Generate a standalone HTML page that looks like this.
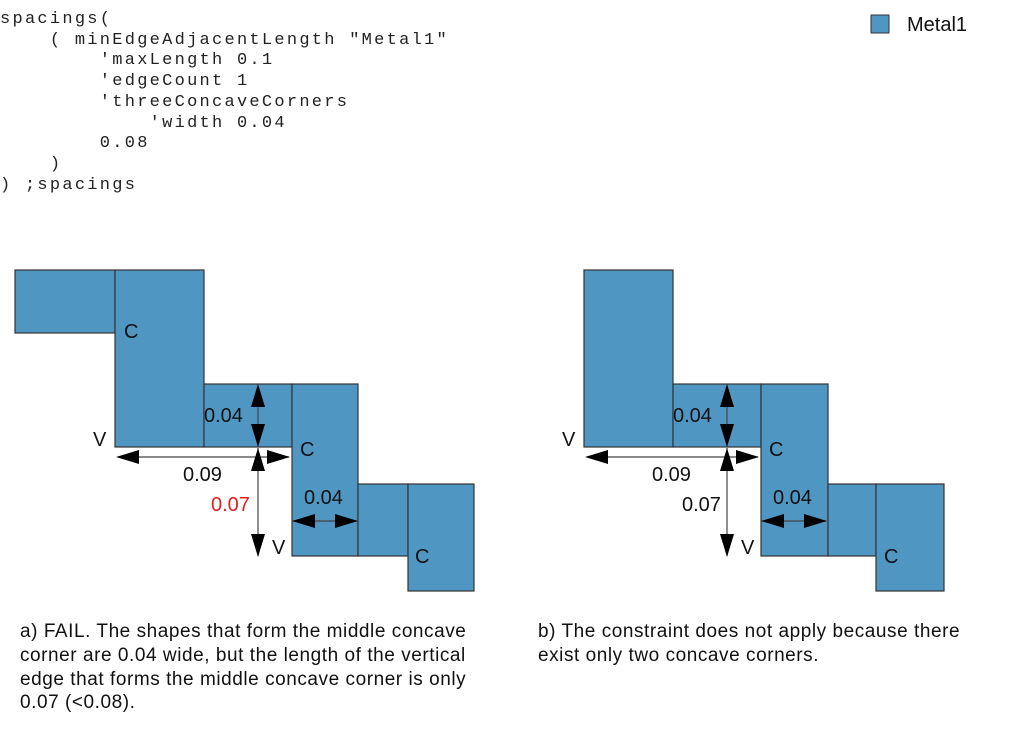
<!DOCTYPE html>
<html><head><meta charset="utf-8"><style>
body{margin:0;background:#fff;width:1013px;height:745px;overflow:hidden;position:relative;font-family:"Liberation Sans",sans-serif}
pre{position:absolute;left:0;top:10px;margin:0;font-family:"Liberation Mono",monospace;font-size:17px;letter-spacing:2.27px;line-height:20.7px;color:#222}
.cap{position:absolute;font-size:19px;letter-spacing:0.55px;line-height:23.8px;color:#111}
</style></head><body>
<pre>spacings(
    ( minEdgeAdjacentLength "Metal1"
        'maxLength 0.1
        'edgeCount 1
        'threeConcaveCorners
            'width 0.04
        0.08
    )
) ;spacings</pre>
<svg width="1013" height="745" style="position:absolute;left:0;top:0" font-family="Liberation Sans, sans-serif" font-size="20">
<defs>
<g id="ah"><polygon points="0,0 -7,23 7,23" fill="#000"/></g>
</defs>
<rect x="871" y="15" width="18" height="18" fill="#5096c3" stroke="#333"/>
<text x="907" y="31" fill="#111">Metal1</text>
<g fill="#5096c3" stroke="#333" stroke-width="1.2">
<rect x="15" y="270" width="100" height="63"/>
<rect x="115" y="270" width="89" height="177"/>
<rect x="204" y="384" width="88" height="63"/>
<rect x="292" y="384" width="66" height="172"/>
<rect x="358" y="484" width="50" height="72"/>
<rect x="408" y="484" width="66" height="107"/>
<rect x="584" y="270" width="89" height="177"/>
<rect x="673" y="384" width="88" height="63"/>
<rect x="761" y="384" width="67" height="172"/>
<rect x="828" y="484" width="48" height="72"/>
<rect x="876" y="484" width="68" height="107"/>
</g>
<g id="dims">
<g stroke="#444" stroke-width="1.2">
<line x1="258" y1="386" x2="258" y2="446"/>
<line x1="118" y1="457" x2="289" y2="457"/>
<line x1="258" y1="448" x2="258" y2="556"/>
<line x1="293" y1="521" x2="357" y2="521"/>
</g>
<use href="#ah" transform="translate(258,384)"/>
<use href="#ah" transform="translate(258,447) rotate(180)"/>
<use href="#ah" transform="translate(116,457) rotate(-90)"/>
<use href="#ah" transform="translate(290,457) rotate(90)"/>
<use href="#ah" transform="translate(258,448)"/>
<use href="#ah" transform="translate(258,557) rotate(180)"/>
<use href="#ah" transform="translate(292,521) rotate(-90)"/>
<use href="#ah" transform="translate(358,521) rotate(90)"/>
<text x="204" y="422" fill="#111">0.04</text>
<text x="183" y="481" fill="#111">0.09</text>
<text x="304" y="504" fill="#111">0.04</text>
<text x="300" y="456" fill="#111">C</text>
<text x="415" y="563" fill="#111">C</text>
<text x="93" y="446" fill="#111">V</text>
<text x="272" y="554" fill="#111">V</text>
</g>
<use href="#dims" transform="translate(469,0)"/>
<text x="124" y="338" fill="#111">C</text>
<text x="211" y="511" fill="#e02020">0.07</text>
<text x="682" y="511" fill="#111">0.07</text>
</svg>
<div class="cap" style="left:20px;top:620px;width:490px">a) FAIL. The shapes that form the middle concave<br>corner are 0.04 wide, but the length of the vertical<br>edge that forms the middle concave corner is only<br>0.07 (&lt;0.08).</div>
<div class="cap" style="left:538px;top:620px;width:470px">b) The constraint does not apply because there<br>exist only two concave corners.</div>
</body></html>
